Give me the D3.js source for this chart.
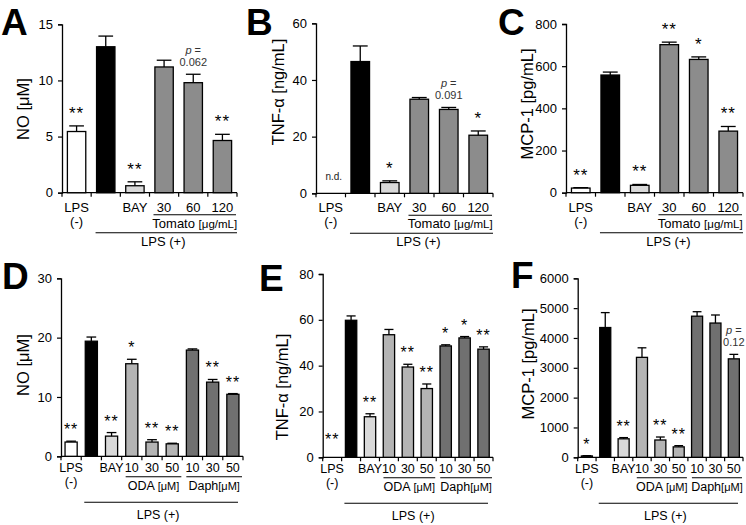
<!DOCTYPE html>
<html>
<head>
<meta charset="utf-8">
<script src="https://cdn.jsdelivr.net/npm/d3@7"></script>
<style>
  body { margin: 0; background: #fff; }
  svg { display: block; font-family: "Liberation Sans", Arial, sans-serif; }
</style>
</head>
<body>
<svg id="fig" width="746" height="525"></svg>
<script>
// categories
var catsTop = ["LPS(-)", "LPS", "BAY", "30", "60", "120"];
var catsBottom = ["LPS(-)", "LPS", "BAY", "ODA 10", "ODA 30", "ODA 50", "Daph 10", "Daph 30", "Daph 50"];

// A: NO [uM], tomato
var noA = [5.45, 13.0, 0.62, 11.2, 9.8, 4.65];
var noAErr = [0.5, 0.95, 0.35, 0.6, 0.75, 0.55];
var sigA = ["**", "", "**", "", "", "**"];
var pA = ["", "", "", "", "0.062", ""];

// B: TNF-a [ng/mL], tomato
var tnfB = [0, 46.5, 3.8, 33.2, 29.6, 20.5];
var tnfBErr = [0, 5.5, 0.6, 0.6, 0.7, 1.5];
var sigB = ["n.d.", "", "*", "", "", "*"];
var pB = ["", "", "", "", "0.091", ""];

// C: MCP-1 [pg/mL], tomato
var mcpC = [22, 558, 35, 702, 632, 292];
var mcpCErr = [2, 14, 4, 12, 12, 22];
var sigC = ["**", "", "**", "**", "*", "**"];
var pC = ["", "", "", "", "", ""];

// D: NO [uM], ODA / Daph
var noD = [2.4, 19.4, 3.4, 15.6, 2.4, 2.1, 17.9, 12.5, 10.45];
var noDErr = [0.15, 0.7, 0.6, 0.75, 0.4, 0.1, 0.2, 0.45, 0.12];
var sigD = ["**", "", "**", "*", "**", "**", "", "**", "**"];
var pD = ["", "", "", "", "", "", "", "", ""];

// E: TNF-a [ng/mL], ODA / Daph
var tnfE = [0, 59.8, 17.7, 53.5, 39.4, 30.0, 48.6, 52.1, 47.2];
var tnfEErr = [0, 1.9, 1.3, 2.3, 1.2, 2.0, 0.5, 0.6, 1.0];
var sigE = ["**", "", "**", "", "**", "**", "*", "*", "**"];
var pE = ["", "", "", "", "", "", "", "", ""];

// F: MCP-1 [pg/mL], ODA / Daph
var mcpF = [45, 4350, 620, 3350, 580, 350, 4730, 4500, 3300];
var mcpFErr = [10, 500, 40, 320, 100, 40, 150, 270, 150];
var sigF = ["*", "", "**", "", "**", "**", "", "", ""];
var pF = ["", "", "", "", "", "", "", "", "0.12"];

// tick labels under the bars
var labTop = ["LPS", "", "BAY", "30", "60", "120"];
var labBottom = ["LPS", "", "BAY", "10", "30", "50", "10", "30", "50"];

var fillTop = ["#ffffff", "#000000", "#d9d9d9", "#8c8c8c", "#8c8c8c", "#8c8c8c"];
var fillBottom = ["#ffffff", "#000000", "#d9d9d9", "#b4b4b4", "#b4b4b4", "#b4b4b4", "#707070", "#707070", "#707070"];

var svg = d3.select("#fig");

function panel(p) {
    var g = svg.append("g");
    var x = d3.scaleBand().domain(p.cats).range([p.x0, p.x1])
        .paddingInner(p.pad).paddingOuter(p.pad / 2);
    var y = d3.scaleLinear().domain([0, p.max]).range([p.y0, p.y1]);
    var bw = x.bandwidth();

    // y axis
    var ya = g.append("g").attr("transform", "translate(" + p.x0 + ",0)")
        .call(d3.axisLeft(y).tickValues(d3.range(0, p.max + 1e-9, p.step))
            .tickSize(4).tickPadding(5).tickFormat(d3.format("d")));
    ya.select(".domain").attr("stroke-width", 1.3);
    ya.selectAll("line").attr("stroke-width", 1.2);
    ya.selectAll("text").attr("font-size", p.tickFs).attr("fill", "#000")
        .attr("font-family", "Liberation Sans, Arial, sans-serif");

    // x axis line with ticks at band edges
    g.append("line").attr("x1", p.x0).attr("x2", p.x1).attr("y1", p.y0).attr("y2", p.y0)
        .attr("stroke", "#000").attr("stroke-width", 1.3);
    var edges = p.cats.map(function (c) { return x(c) - x.step() * x.paddingInner() / 2; });
    edges.push(p.x1);
    g.selectAll(".xt").data(edges).enter().append("line")
        .attr("x1", function (d) { return d; }).attr("x2", function (d) { return d; })
        .attr("y1", p.y0).attr("y2", p.y0 + 4)
        .attr("stroke", "#000").attr("stroke-width", 1.2);

    // bars
    var rows = p.cats.map(function (c, i) {
        return { c: c, v: p.vals[i], e: p.errs[i], s: p.sig[i], pv: p.pv[i], f: p.fills[i], lab: p.labs[i] };
    });
    g.selectAll(".bar").data(rows.filter(function (d) { return d.v > 0; })).enter().append("rect")
        .attr("x", function (d) { return x(d.c); })
        .attr("y", function (d) { return y(d.v); })
        .attr("width", bw)
        .attr("height", function (d) { return y(0) - y(d.v); })
        .attr("fill", function (d) { return d.f; })
        .attr("stroke", "#000").attr("stroke-width", 1.3);

    // error bars (upper only)
    var eb = rows.filter(function (d) { return d.e > 0; });
    g.selectAll(".ev").data(eb).enter().append("line")
        .attr("x1", function (d) { return x(d.c) + bw / 2; })
        .attr("x2", function (d) { return x(d.c) + bw / 2; })
        .attr("y1", function (d) { return y(d.v); })
        .attr("y2", function (d) { return y(d.v + d.e); })
        .attr("stroke", "#000").attr("stroke-width", 1.3);
    g.selectAll(".ec").data(eb).enter().append("line")
        .attr("x1", function (d) { return x(d.c) + bw * 0.1; })
        .attr("x2", function (d) { return x(d.c) + bw * 0.9; })
        .attr("y1", function (d) { return y(d.v + d.e); })
        .attr("y2", function (d) { return y(d.v + d.e); })
        .attr("stroke", "#000").attr("stroke-width", 1.3);

    // significance marks
    rows.forEach(function (d) {
        var cx = x(d.c) + bw / 2;
        var top = y(d.v + d.e);
        if (d.s === "n.d.") {
            g.append("text").attr("x", cx + 3).attr("y", p.y0 - 13).attr("text-anchor", "middle")
                .attr("font-size", 10).attr("fill", "#222").text("n.d.");
        } else if (d.s) {
            var gap = d.v > 0 ? p.starGap : p.starGap + 6;
            g.append("text").attr("x", cx).attr("y", top - gap).attr("text-anchor", "middle")
                .attr("font-size", p.starFs).attr("letter-spacing", 1).text(d.s);
        }
        if (d.pv) {
            var t = g.append("text").attr("x", cx).attr("y", top - 20).attr("text-anchor", "middle")
                .attr("font-size", 11).attr("fill", "#333");
            t.append("tspan").attr("font-style", "italic").text("p");
            t.append("tspan").text(" =");
            g.append("text").attr("x", cx).attr("y", top - 8).attr("text-anchor", "middle")
                .attr("font-size", 11).attr("fill", "#333").text(d.pv);
        }
        if (d.lab) {
            g.append("text").attr("x", cx).attr("y", p.y0 + p.l1).attr("text-anchor", "middle")
                .attr("font-size", p.labFs).text(d.lab);
        }
    });
    // LPS (-) second line
    g.append("text").attr("x", x(p.cats[0]) + bw / 2).attr("y", p.y0 + p.l2).attr("text-anchor", "middle")
        .attr("font-size", p.labFs).text("(-)");

    // group underlines
    p.groups.forEach(function (gr) {
        var a = x(p.cats[gr.from]) - x.step() * x.paddingInner() / 2 + 4;
        var b = x(p.cats[gr.to]) + bw + x.step() * x.paddingInner() / 2 - 1;
        g.append("line").attr("x1", a).attr("x2", b).attr("y1", p.y0 + p.gl).attr("y2", p.y0 + p.gl)
            .attr("stroke", "#000").attr("stroke-width", 1.1);
        var t = g.append("text").attr("x", (a + b) / 2).attr("y", p.y0 + p.gt).attr("text-anchor", "middle")
            .attr("font-size", p.labFs);
        t.append("tspan").text(gr.name);
        t.append("tspan").attr("font-size", p.labFs - 1.5).text(gr.unit);
    });

    // LPS (+) line
    var la = x(p.cats[1]) - 1, lb = p.x1 - p.lpsInset;
    g.append("line").attr("x1", la).attr("x2", lb).attr("y1", p.y0 + p.ll).attr("y2", p.y0 + p.ll)
        .attr("stroke", "#000").attr("stroke-width", 1.1);
    g.append("text").attr("x", (la + lb) / 2 - 3).attr("y", p.y0 + p.lt).attr("text-anchor", "middle")
        .attr("font-size", p.labFs).text("LPS (+)");

    // y label
    g.append("text").attr("transform", "translate(" + p.ylx + "," + p.yly + ") rotate(-90)")
        .attr("text-anchor", "middle").attr("dominant-baseline", "central")
        .attr("font-size", 16.5).text(p.ylab);

    // panel letter
    g.append("text").attr("x", p.lx).attr("y", p.ly).attr("font-size", 37)
        .attr("font-weight", "bold").text(p.letter);
}

var topRow = { cats: catsTop, labs: labTop, fills: fillTop, pad: 0.37, tickFs: 13, labFs: 13, starFs: 17, starGap: 7,
    l1: 19, l2: 33, gl: 22, gt: 35, ll: 40, lt: 53, lpsInset: 0,
    groups: [{ from: 3, to: 5, name: "Tomato ", unit: "[μg/mL]" }] };
var botRow = { cats: catsBottom, labs: labBottom, fills: fillBottom, pad: 0.4, tickFs: 13, labFs: 12.5, starFs: 16, starGap: 6,
    l1: 16, l2: 30, gl: 20.5, gt: 34, ll: 46, lt: 63, lpsInset: 5,
    groups: [{ from: 3, to: 5, name: "ODA ", unit: "[μM]" }, { from: 6, to: 8, name: "Daph", unit: "[μM]" }] };

function mk(base, o) { return Object.assign({}, base, o); }

panel(mk(topRow, { x0: 62, x1: 237, y0: 192.7, y1: 24.3, max: 15, step: 5, vals: noA, errs: noAErr, sig: sigA, pv: pA,
    ylab: "NO [μM]", ylx: 23, yly: 109, letter: "A", lx: 1, ly: 35 }));
panel(mk(topRow, { x0: 316, x1: 493, y0: 193.3, y1: 23.3, max: 60, step: 20, vals: tnfB, errs: tnfBErr, sig: sigB, pv: pB,
    ylab: "TNF-α [ng/mL]", ylx: 278, yly: 92, letter: "B", lx: 246, ly: 35 }));
panel(mk(topRow, { x0: 566, x1: 743, y0: 192.7, y1: 24, max: 800, step: 200, vals: mcpC, errs: mcpCErr, sig: sigC, pv: pC,
    ylab: "MCP-1 [pg/mL]", ylx: 527, yly: 104, letter: "C", lx: 498, ly: 35 }));
panel(mk(botRow, { x0: 61, x1: 243, y0: 456.3, y1: 278.3, max: 30, step: 10, vals: noD, errs: noDErr, sig: sigD, pv: pD,
    ylab: "NO [μM]", ylx: 23, yly: 365, letter: "D", lx: 2, ly: 289 }));
panel(mk(botRow, { x0: 322.7, x1: 493, y0: 457.3, y1: 274, max: 80, step: 20, vals: tnfE, errs: tnfEErr, sig: sigE, pv: pE,
    ylab: "TNF-α [ng/mL]", ylx: 282, yly: 387, letter: "E", lx: 259, ly: 291 }));
panel(mk(botRow, { x0: 577.7, x1: 743, y0: 457.3, y1: 278.3, max: 6000, step: 1000, vals: mcpF, errs: mcpFErr, sig: sigF, pv: pF,
    ylab: "MCP-1 [pg/mL]", ylx: 528, yly: 364, letter: "F", lx: 511, ly: 288 }));
</script>
</body>
</html>
